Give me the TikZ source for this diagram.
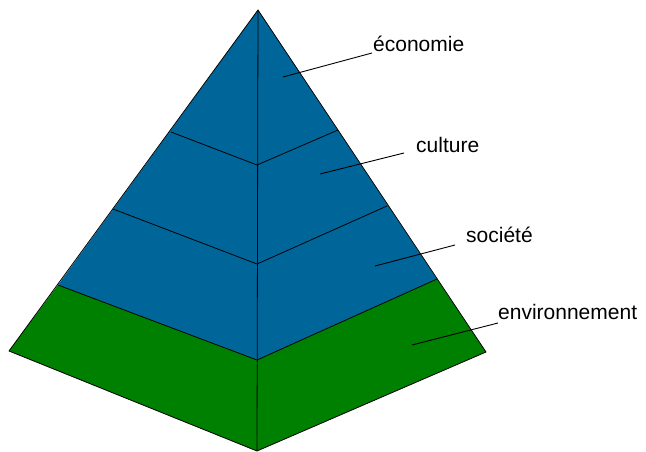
\documentclass[tikz,border=0pt]{standalone}
\usepackage{fontspec}
\setmainfont{Liberation Sans}
\begin{document}
\begin{tikzpicture}[x=1pt,y=-1pt,
  edge/.style={draw=black,line width=0.8pt,line join=round},
  lbl/.style={inner sep=0pt,anchor=base west,font=\fontsize{21}{24}\selectfont},
  leader/.style={draw=black,line width=0.9pt}]
\definecolor{pblue}{RGB}{0,102,153}
\definecolor{pgreen}{RGB}{0,128,0}
\useasboundingbox (0,0) rectangle (646,452);
% points
\coordinate (A) at (258,10);
\coordinate (F1) at (257,165);
\coordinate (F2) at (257,264);
\coordinate (F3) at (257,360);
\coordinate (F4) at (257,451);
\coordinate (L1) at (171,132);
\coordinate (L2) at (113,209);
\coordinate (L3) at (58,285);
\coordinate (L4) at (9,351);
\coordinate (R1) at (338,130);
\coordinate (R2) at (387,206);
\coordinate (R3) at (437,279);
\coordinate (R4) at (486,352);
% faces
\fill[pblue] (A) -- (L3) -- (F3) -- (R3) -- cycle;
\fill[pgreen] (L3) -- (L4) -- (F4) -- (R4) -- (R3) -- (F3) -- cycle;
% edges
\draw[edge] (A) -- (L4) -- (F4) -- (R4) -- cycle;
\draw[edge] (A) -- (F4);
\draw[edge] (L1) -- (F1) -- (R1);
\draw[edge] (L2) -- (F2) -- (R2);
\draw[edge] (L3) -- (F3) -- (R3);
% labels
\node[lbl] (t1) at (373,52) {économie};
\node[lbl] (t2) at (416,152) {culture};
\node[lbl] (t3) at (466,242) {société};
\node[lbl] (t4) at (498,319) {environnement};
\coordinate (s1) at (283,77);  \coordinate (e1) at (372,53);
\coordinate (s2) at (320,174); \coordinate (e2) at (404,153);
\coordinate (s3) at (375,266); \coordinate (e3) at (455,245);
\coordinate (s4) at (412,345); \coordinate (e4) at (498,323);
\draw[leader] (s1) -- (e1);
\draw[leader] (s2) -- (e2);
\draw[leader] (s3) -- (e3);
\draw[leader] (s4) -- (e4);
\end{tikzpicture}
\end{document}
